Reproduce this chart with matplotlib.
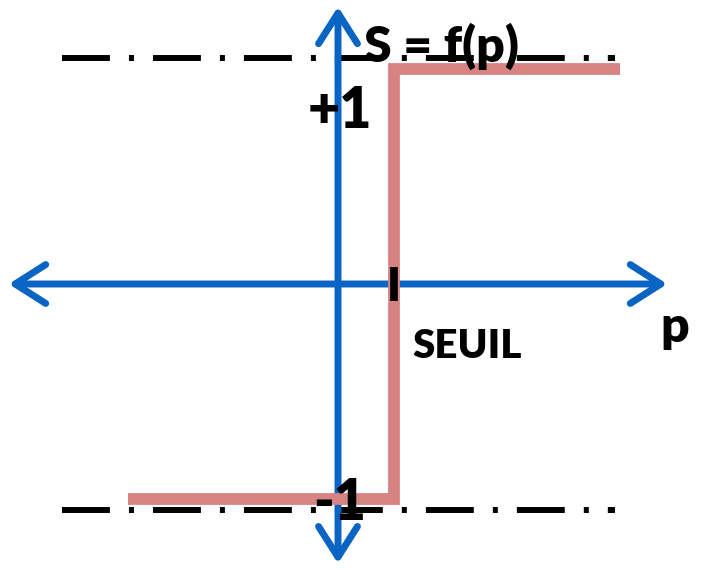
import matplotlib
matplotlib.use("Agg")
import matplotlib.pyplot as plt

plt.rcParams["font.family"] = ["Lato", "DejaVu Sans"]
plt.rcParams["lines.scale_dashes"] = False

# fonction seuil S = f(p)
seuil = 1.0
step_p = [-3.75, seuil, seuil, 5.04]
step_s = [-1, -1, 1, 1]

# niveaux pointillés (+1 / -1)
niveaux = [1.05, -1.05]
niveau_p = [-4.93, 4.95]

# axes fléchés
axe_p = [-5.88, 5.88]
axe_s = [-1.30, 1.29]

bleu = "#0a64c4"
rouge = "#d88383"

fig = plt.figure(figsize=(7.05, 5.7), dpi=100)
ax = fig.add_axes([0, 0, 1, 1])
ax.set_xlim(-338 / 56, 367 / 56)
ax.set_ylim(-286 / 215, 284 / 215)
ax.axis("off")

for y in niveaux:
    ax.plot(niveau_p, [y, y], color="black", lw=4.3, solid_capstyle="butt",
            dash_capstyle="butt", linestyle=(0, (34.5, 13.7, 3.6, 13.7)), zorder=1)

style = "<->,head_length=2.2,head_width=1.4"
for xy, xytext in [((axe_p[1], 0), (axe_p[0], 0)), ((0, axe_s[1]), (0, axe_s[0]))]:
    ax.annotate("", xy=xy, xytext=xytext,
                arrowprops=dict(arrowstyle=style, lw=5, color=bleu, shrinkA=0,
                                shrinkB=0, mutation_scale=10, capstyle="round"),
                zorder=2)

ax.plot(step_p, step_s, color=rouge, lw=8.5, solid_joinstyle="miter",
        solid_capstyle="butt", zorder=3)

# graduation du seuil
ax.plot([seuil, seuil], [-0.08, 0.08], color="black", lw=5.5,
        solid_capstyle="butt", zorder=4)

txt = dict(fontweight="heavy", color="black", zorder=5)
ax.text(1.857, 1.033, "S = f(p)", ha="center", va="baseline", fontsize=36, **txt)
ax.text(0.036, 0.726, "+1", ha="center", va="baseline", fontsize=40, **txt)
ax.text(0.036, -1.098, "-1", ha="center", va="baseline", fontsize=40, **txt)
ax.text(2.30, -0.344, "SEUIL", ha="center", va="baseline", fontsize=29, **txt)
ax.text(6.02, -0.27, "p", ha="center", va="baseline", fontsize=36, **txt)

fig.savefig("out.png", dpi=100)
